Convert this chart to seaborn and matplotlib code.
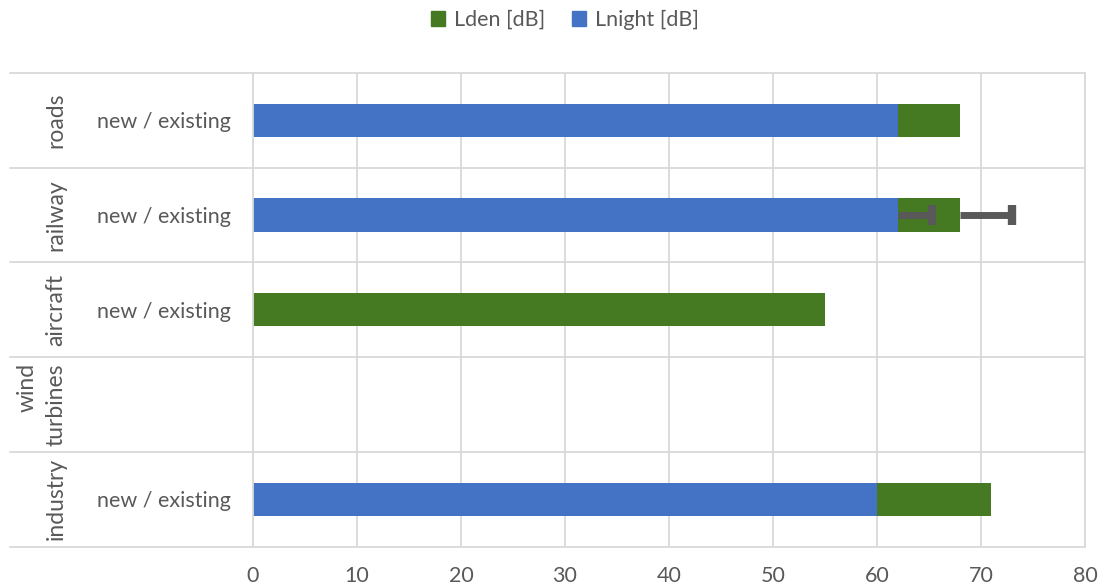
import numpy as np
import pandas as pd
import seaborn as sns
import matplotlib.pyplot as plt
from matplotlib.patches import Patch
import matplotlib.transforms as mtransforms

# categories (top to bottom) and the values
groups = ['roads', 'railway', 'aircraft', 'wind\nturbines', 'industry']
sub_labels = ['new / existing', 'new / existing', 'new / existing', '', 'new / existing']
lden = [68, 68, 55, np.nan, 71]
lnight = [62, 62, np.nan, np.nan, 60]
lden_err = [0, 5, 0, 0, 0]
lnight_err = [0, 3.3, 0, 0, 0]
x_ticks = [0, 10, 20, 30, 40, 50, 60, 70, 80]

green = '#467A22'
blue = '#4472C4'
grey_txt = '#595959'
grid_c = '#D9D9D9'
fs = 15.5

sns.set_style('white')
plt.rcParams['font.family'] = ['Lato', 'DejaVu Sans']

df = pd.DataFrame({'group': groups, 'Lden': lden, 'Lnight': lnight})

fig = plt.figure(figsize=(11.06, 5.86), dpi=100)
ax = fig.add_axes([253 / 1106, 1 - 546.5 / 586, 832 / 1106, (546.5 - 73) / 586])

sns.barplot(data=df.dropna(subset=['Lden']), x='Lden', y='group', order=groups,
            color=green, width=0.35, errorbar=None, saturation=1, linewidth=0, ax=ax)
sns.barplot(data=df.dropna(subset=['Lnight']), x='Lnight', y='group', order=groups,
            color=blue, width=0.35, errorbar=None, saturation=1, linewidth=0, ax=ax)

# error bars (plus direction only, like the original)
for vals, errs in [(lnight, lnight_err), (lden, lden_err)]:
    for i, (v, e) in enumerate(zip(vals, errs)):
        if e > 0 and not np.isnan(v):
            _, caps, _ = ax.errorbar(v, i, xerr=[[0], [e]], fmt='none', ecolor=grey_txt,
                                     elinewidth=5, capsize=7.5, capthick=6, zorder=5)
            caps[0].set_visible(False)

ax.set_xlim(0, 80)
ax.set_ylim(len(groups) - 0.5, -0.5)
ax.set_xticks(x_ticks)
ax.set_xticklabels([str(t) for t in x_ticks], fontsize=fs, color=grey_txt)
ax.set_yticks(range(len(groups)))
ax.set_yticklabels(sub_labels, fontsize=fs, color=grey_txt)
ax.tick_params(axis='both', length=0)
ax.tick_params(axis='y', pad=16)
ax.tick_params(axis='x', pad=14)
ax.set_xlabel('')
ax.set_ylabel('')

ax.grid(axis='x', color=grid_c, linewidth=1.3)
ax.set_axisbelow(True)
for s in ['top', 'bottom']:
    ax.spines[s].set_visible(False)
for s in ['left', 'right']:
    ax.spines[s].set_color(grid_c)
    ax.spines[s].set_linewidth(1.3)

# category separators of the two-level axis
trans = mtransforms.blended_transform_factory(ax.transAxes, ax.transData)
for b in np.arange(-0.5, len(groups), 1.0):
    ax.plot([-0.292, 1], [b, b], transform=trans, color=grid_c, linewidth=1.3,
            clip_on=False, zorder=0)

# outer level labels, rotated, right edges lined up
for i, g in enumerate(groups):
    ax.text(-0.224, i, g, transform=trans, rotation=90, ha='right', va='center',
            fontsize=16.5, color=grey_txt, linespacing=1.45)

handles = [Patch(color=green, label='Lden [dB]'), Patch(color=blue, label='Lnight [dB]')]
fig.legend(handles=handles, loc='center', bbox_to_anchor=(565 / 1106, 1 - 20 / 586), ncol=2,
           frameon=False, fontsize=fs, labelcolor=grey_txt, handlelength=0.65,
           handleheight=0.65, handletextpad=0.45, columnspacing=1.2)

fig.savefig('out.png', dpi=100)
